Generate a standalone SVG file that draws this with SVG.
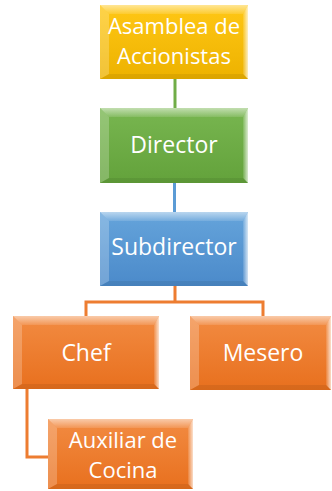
<svg xmlns="http://www.w3.org/2000/svg" width="332" height="491" viewBox="0 0 332 491">
<style>
.lbl{fill:#fff;font-family:"Open Sans","Liberation Sans",sans-serif;font-size:23px;text-anchor:middle}
.two{font-size:22px}
.bt{fill:url(#gTop)}
.bl{fill:#fff;fill-opacity:0.22}
.br{fill:url(#gRight)}
.bb{fill:#000;fill-opacity:0.07}
.conn{fill:none;stroke-width:3}
</style>
<defs>
<linearGradient id="gTop" x1="0" y1="0" x2="0" y2="1"><stop offset="0" stop-color="#fff" stop-opacity="0.55"/><stop offset="1" stop-color="#fff" stop-opacity="0.12"/></linearGradient>
<linearGradient id="gRight" x1="0" y1="0" x2="1" y2="0"><stop offset="0" stop-color="#fff" stop-opacity="0.1"/><stop offset="1" stop-color="#fff" stop-opacity="0.75"/></linearGradient>
<linearGradient id="gY" x1="0" y1="0" x2="0" y2="1"><stop offset="0" stop-color="#FFC715"/><stop offset="1" stop-color="#EDB200"/></linearGradient>
<linearGradient id="gG" x1="0" y1="0" x2="0" y2="1"><stop offset="0" stop-color="#78B650"/><stop offset="1" stop-color="#63A23B"/></linearGradient>
<linearGradient id="gB" x1="0" y1="0" x2="0" y2="1"><stop offset="0" stop-color="#65A4DB"/><stop offset="1" stop-color="#4B8ACA"/></linearGradient>
<linearGradient id="gO" x1="0" y1="0" x2="0" y2="1"><stop offset="0" stop-color="#F28B42"/><stop offset="1" stop-color="#E8701E"/></linearGradient>
</defs>
<g id="connectors">
<path class="conn" stroke="#70AD47" d="M175,79 V108"/>
<path class="conn" stroke="#5B9BD5" d="M174.5,183 V212"/>
<path class="conn" stroke="#ED7D31" d="M175,286 V302 H86 V316 M175,302 H263 V316"/>
<path class="conn" stroke="#ED7D31" d="M27,389 V457 H48"/>
</g>
<g id="asamblea">
<rect x="100" y="5" width="148" height="74" fill="url(#gY)"/>
<polygon class="bt" points="100,5 248,5 243,14 109,14"/>
<polygon class="bl" points="100,5 109,14 109,74 100,79"/>
<polygon class="br" points="243,14 248,5 248,79 243,74"/>
<polygon class="bb" points="100,79 109,74 243,74 248,79"/>
<text class="lbl two" x="174" y="34">Asamblea de</text>
<text class="lbl two" x="174" y="64">Accionistas</text>
</g>
<g id="director">
<rect x="100" y="108" width="148" height="75" fill="url(#gG)"/>
<polygon class="bt" points="100,108 248,108 243,117 109,117"/>
<polygon class="bl" points="100,108 109,117 109,178 100,183"/>
<polygon class="br" points="243,117 248,108 248,183 243,178"/>
<polygon class="bb" points="100,183 109,178 243,178 248,183"/>
<text class="lbl" x="174" y="153">Director</text>
</g>
<g id="subdirector">
<rect x="100" y="212" width="148" height="74" fill="url(#gB)"/>
<polygon class="bt" points="100,212 248,212 243,221 109,221"/>
<polygon class="bl" points="100,212 109,221 109,281 100,286"/>
<polygon class="br" points="243,221 248,212 248,286 243,281"/>
<polygon class="bb" points="100,286 109,281 243,281 248,286"/>
<text class="lbl" x="174" y="255">Subdirector</text>
</g>
<g id="chef">
<rect x="13" y="316" width="146" height="73" fill="url(#gO)"/>
<polygon class="bt" points="13,316 159,316 154,325 22,325"/>
<polygon class="bl" points="13,316 22,325 22,384 13,389"/>
<polygon class="br" points="154,325 159,316 159,389 154,384"/>
<polygon class="bb" points="13,389 22,384 154,384 159,389"/>
<text class="lbl" x="86" y="361">Chef</text>
</g>
<g id="mesero">
<rect x="190" y="316" width="141" height="74" fill="url(#gO)"/>
<polygon class="bt" points="190,316 331,316 326,325 199,325"/>
<polygon class="bl" points="190,316 199,325 199,385 190,390"/>
<polygon class="br" points="326,325 331,316 331,390 326,385"/>
<polygon class="bb" points="190,390 199,385 326,385 331,390"/>
<text class="lbl" x="263" y="361">Mesero</text>
</g>
<g id="auxiliar">
<rect x="48" y="419" width="145" height="70" fill="url(#gO)"/>
<polygon class="bt" points="48,419 193,419 188,428 57,428"/>
<polygon class="bl" points="48,419 57,428 57,484 48,489"/>
<polygon class="br" points="188,428 193,419 193,489 188,484"/>
<polygon class="bb" points="48,489 57,484 188,484 193,489"/>
<text class="lbl two" x="123" y="448">Auxiliar de</text>
<text class="lbl two" x="123" y="478">Cocina</text>
</g>
</svg>
